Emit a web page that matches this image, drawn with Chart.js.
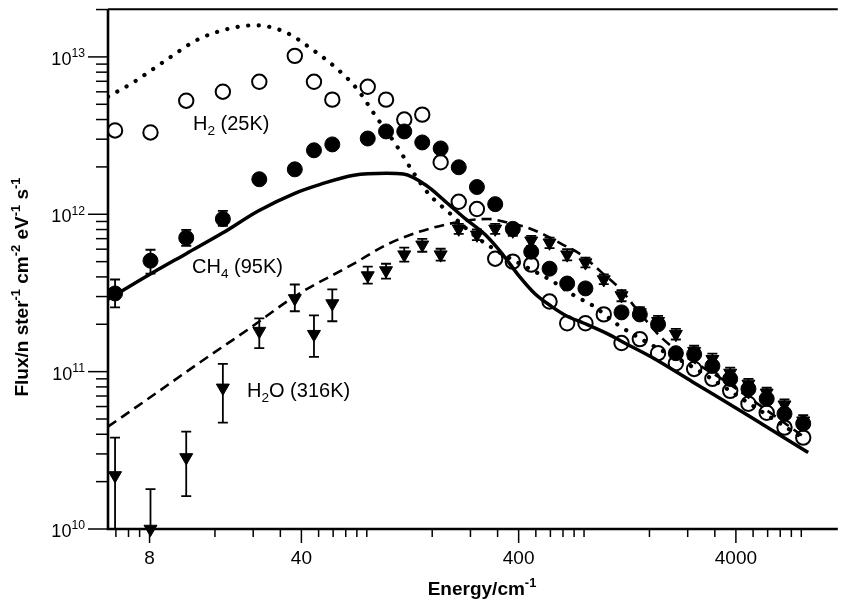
<!DOCTYPE html>
<html>
<head>
<meta charset="utf-8">
<script src="https://cdn.jsdelivr.net/npm/chart.js@4.4.1/dist/chart.umd.min.js"></script>
<style>
html,body{margin:0;padding:0;background:#fff}
</style>
</head>
<body>
<canvas id="c" width="847" height="602"></canvas>
<script>

// energies (cm-1) of the measured points
let energy=[5.55,8.08,11.8,17.4,25.6,37.3,45.7,55.5,80.8,98.1,119,144,175,212,257,312,376,457,555,669,812,986,1190,1445,1753,2117,2570,3118,3765,4569,5544,6695,8166]

// measured flux, n ster-1 cm-2 eV-1 s-1
let h2Flux=[3.41e12,3.31e12,5.27e12,6.01e12,6.95e12,1.015e13,6.95e12,5.35e12,6.46e12,5.35e12,4.0e12,4.3e12,2.14e12,1.2e12,1.08e12,5.22e11,5.0e11,4.79e11,2.79e11,2.03e11,2.03e11,2.31e11,1.52e11,1.61e11,1.31e11,1.13e11,1.04e11,8.99e10,7.55e10,6.25e10,5.48e10,4.41e10,3.81e10]
let ch4Flux=[3.14e11,5.07e11,7.09e11,9.34e11,1.67e12,1.93e12,2.55e12,2.78e12,3.03e12,3.36e12,3.36e12,2.86e12,2.62e12,1.99e12,1.49e12,1.16e12,8.08e11,5.78e11,4.51e11,3.63e11,3.38e11,null,2.38e11,2.31e11,2.0e11,1.31e11,1.29e11,1.086e11,8.99e10,7.77e10,6.72e10,5.4e10,4.67e10]
let ch4Lo=[2.56e11,4.2e11,6.31e11,8.44e11]
let ch4Hi=[3.85e11,5.95e11,7.96e11,1.05e12]
let h2oFlux=[2.19e10,1.0e10,2.85e10,7.89e10,1.81e11,2.92e11,1.73e11,2.71e11,4.08e11,4.39e11,5.54e11,6.4e11,5.54e11,8.08e11,7.4e11,8.08e11,7.85e11,6.79e11,6.59e11,5.54e11,4.93e11,3.85e11,3.05e11,2.38e11,2.09e11,1.73e11,1.35e11,1.2e11,9.81e10,8.36e10,7.33e10,6.16e10,4.88e10]
let h2oLo=[1.0e10,1.0e10,1.62e10,4.74e10,1.41e11,2.42e11,1.24e11,2.09e11,3.63e11,3.9e11,5.0e11,5.78e11,5.07e11,7.5e11,6.85e11,7.5e11,7.3e11,6.3e11,6.1e11,5.1e11,4.6e11,3.6e11,2.8e11,2.2e11,1.94e11,1.6e11,1.25e11,1.11e11,9.1e10,7.7e10,6.8e10,5.7e10,4.5e10]
let h2oHi=[3.81e10,1.79e10,4.16e10,1.12e11,2.18e11,3.58e11,2.28e11,3.33e11,4.65e11,4.85e11,6.13e11,6.98e11,6.04e11,8.7e11,8.0e11,8.7e11,8.5e11,7.3e11,7.1e11,6.0e11,5.3e11,4.15e11,3.3e11,2.57e11,2.26e11,1.87e11,1.46e11,1.3e11,1.06e11,9.0e10,7.9e10,6.65e10,5.3e10]

// model curves
let h2ModelE=[5.15,6.69,9.56,13.5,19.1,24.5,33.6,45.9,58.4,72,88.8,109.5,130.8,154.7,190.6,245,312,405,566,720,888,1118,1579,2529,4270,8430]
let h2ModelF=[5.59e12,6.85e12,9.57e12,1.3e13,1.525e13,1.59e13,1.44e13,1.09e13,8.4e12,6.28e12,4.12e12,2.74e12,1.85e12,1.34e12,1.03e12,7.51e11,5.95e11,4.86e11,3.79e11,3.05e11,2.6e11,2.03e11,1.52e11,1.07e11,6.72e10,3.65e10]
let ch4ModelE=[5.15,8.0,11.8,17.4,25.3,37.3,48.9,69.8,98.6,117.8,149.9,184.8,227.8,281,335.5,397,474,566,669,800,1017,1254,1664,2529,4740,8605]
let ch4ModelF=[2.88e11,4.14e11,5.62e11,7.62e11,1.05e12,1.36e12,1.55e12,1.77e12,1.82e12,1.8e12,1.53e12,1.2e12,9.34e11,7.4e11,5.62e11,4.14e11,3.14e11,2.6e11,2.25e11,2.03e11,1.75e11,1.5e11,1.22e11,8.6e10,5.1e10,3.06e10]
let h2oModelE=[5.15,8.0,13.5,22.8,37.3,69.8,98.6,139,212,290,346,427,526,629,775,955,1178,1422,1848,3846,8430]
let h2oModelF=[4.47e10,6.82e10,1.134e11,1.86e11,3.01e11,4.86e11,6.4e11,7.73e11,8.94e11,9.34e11,8.94e11,8.32e11,7.4e11,6.49e11,5.54e11,4.32e11,3.33e11,2.42e11,1.61e11,8.12e10,3.76e10]

// axis ticks
let xTicks=[5.6,6.4,7.2,8,16,24,32,40,48,56,64,72,80,160,240,320,400,480,560,640,720,800,1600,2400,3200,4000,4800,5600,6400,7200,8000]
let xLabels={8:"8",40:"40",400:"400",4000:"4000"}
let yMajor=[1e10,1e11,1e12,1e13]
let yLabels=["10","11","12","13"]
let yMinor=[2,3,4,5,6,7,8,9]

const FONT='"Liberation Sans", Arial, sans-serif'

function pts(xs,ys){
return xs.map((x,i)=>({x:x,y:ys[i]})).filter(p=>p.y!=null)
}

function font(s,bold){return (bold?"bold ":"")+s+"px "+FONT}

// text with sub/superscript parts: [text, 0 | 1 sup | -1 sub]
function rich(ctx,parts,x,y,size,bold,align){
let w=0
parts.forEach(p=>{ctx.font=font(p[1]?size*0.68:size,bold);w+=ctx.measureText(p[0]).width})
let cx=align=="right"?x-w:align=="center"?x-w/2:x
parts.forEach(p=>{
let s=p[1]?size*0.68:size
ctx.font=font(s,bold)
let dy=p[1]==1?-size*0.42:p[1]==-1?size*0.25:0
ctx.fillText(p[0],cx,y+dy)
cx+=ctx.measureText(p[0]).width
})
}

function bar(ctx,x,y1,y2){
ctx.beginPath()
ctx.moveTo(x,y1);ctx.lineTo(x,y2)
ctx.moveTo(x-5,y1);ctx.lineTo(x+5,y1)
ctx.moveTo(x-5,y2);ctx.lineTo(x+5,y2)
ctx.stroke()
}

const decor={
id:"decor",
afterDatasetsDraw(chart){
let ctx=chart.ctx,xs=chart.scales.x,ys=chart.scales.y
ctx.save()
ctx.strokeStyle="#000";ctx.lineWidth=1.8
energy.forEach((e,i)=>{
let px=xs.getPixelForValue(e)
if(h2oLo[i]!=null) bar(ctx,px,ys.getPixelForValue(h2oHi[i]),ys.getPixelForValue(h2oLo[i]))
if(ch4Lo[i]!=null) bar(ctx,px,ys.getPixelForValue(ch4Hi[i]),ys.getPixelForValue(ch4Lo[i]))
})
ctx.restore()
},
afterDraw(chart){
let ctx=chart.ctx,a=chart.chartArea,xs=chart.scales.x,ys=chart.scales.y
ctx.save()
ctx.strokeStyle="#000";ctx.fillStyle="#000"

// frame
ctx.lineWidth=2
ctx.beginPath();ctx.moveTo(a.left,a.top);ctx.lineTo(a.right,a.top);ctx.stroke()
ctx.lineWidth=2.6
ctx.beginPath();ctx.moveTo(a.left,a.top);ctx.lineTo(a.left,a.bottom);ctx.lineTo(a.right,a.bottom);ctx.stroke()

// y ticks
ctx.lineWidth=1.5
yMajor.forEach((v,i)=>{
let py=ys.getPixelForValue(v)
ctx.beginPath();ctx.moveTo(a.left-20,py);ctx.lineTo(a.left,py);ctx.stroke()
rich(ctx,[["10",0],[yLabels[i],1]],a.left-23,py+8,18,false,"right")
yMinor.forEach(m=>{
let val=v*m
if(val>ys.max) return
let q=ys.getPixelForValue(val)
ctx.beginPath();ctx.moveTo(a.left-12,q);ctx.lineTo(a.left,q);ctx.stroke()
})
})

// x ticks
xTicks.forEach(v=>{
let px=xs.getPixelForValue(v)
let major=xLabels[v]!=null
ctx.beginPath();ctx.moveTo(px,a.bottom);ctx.lineTo(px,a.bottom+(major?14:8));ctx.stroke()
if(major) rich(ctx,[[xLabels[v],0]],px,a.bottom+35,19,false,"center")
})

// axis titles
rich(ctx,[["Energy/cm",0],["-1",1]],482,595,19,true,"center")
ctx.save()
ctx.translate(28,287)
ctx.rotate(-Math.PI/2)
rich(ctx,[["Flux/n ster",0],["-1",1],[" cm",0],["-2",1],[" eV",0],["-1",1],[" s",0],["-1",1]],0,0,19,true,"center")
ctx.restore()

// series labels
rich(ctx,[["H",0],["2",-1],[" (25K)",0]],193,130,20,false,"left")
rich(ctx,[["CH",0],["4",-1],[" (95K)",0]],192,273,20,false,"left")
rich(ctx,[["H",0],["2",-1],["O (316K)",0]],247,397,20,false,"left")
ctx.restore()
}
}

let chart=new Chart(document.getElementById("c"),{
type:"scatter",
data:{datasets:[
{data:pts(h2ModelE,h2ModelF),showLine:true,borderColor:"#000",borderWidth:4.2,borderDash:[0.1,10.5],borderCapStyle:"round",pointRadius:0,cubicInterpolationMode:"monotone",order:6},
{data:pts(ch4ModelE,ch4ModelF),showLine:true,borderColor:"#000",borderWidth:3.5,pointRadius:0,cubicInterpolationMode:"monotone",order:6},
{data:pts(h2oModelE,h2oModelF),showLine:true,borderColor:"#000",borderWidth:2.6,borderDash:[10,6],pointRadius:0,cubicInterpolationMode:"monotone",order:6},
{data:pts(energy,h2oFlux),pointStyle:"triangle",rotation:180,pointRadius:7.5,backgroundColor:"#000",borderColor:"#000",borderWidth:1,order:4,clip:false},
{data:pts(energy,h2Flux),pointStyle:"circle",pointRadius:7.2,backgroundColor:"rgba(0,0,0,0)",borderColor:"#000",borderWidth:2,order:3},
{data:pts(energy,ch4Flux),pointStyle:"circle",pointRadius:7.5,backgroundColor:"#000",borderColor:"#000",borderWidth:1,order:2}
]},
options:{
responsive:false,
animation:false,
devicePixelRatio:1,
events:[],
layout:{padding:{top:6,right:0,left:0,bottom:0}},
plugins:{legend:{display:false},tooltip:{enabled:false}},
scales:{
x:{type:"logarithmic",min:5.15,max:11780,grid:{display:false},border:{display:false},ticks:{display:false},afterFit(s){s.height=73}},
y:{type:"logarithmic",min:1e10,max:2.01e13,grid:{display:false},border:{display:false},ticks:{display:false},afterFit(s){s.width=108}}
}
},
plugins:[decor]
})

</script>
</body>
</html>
